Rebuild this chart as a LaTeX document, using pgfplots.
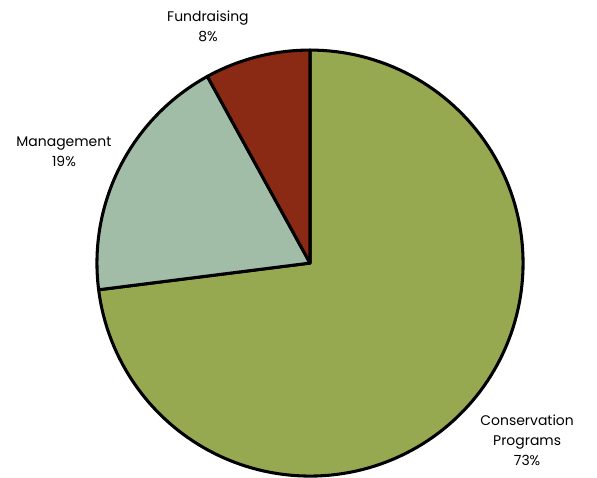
\documentclass[border=0pt]{standalone}
\usepackage{pgfplots}
\usepackage{pgfplotstable}
\pgfplotsset{compat=1.18}
\usepackage{fontspec}
\setmainfont{Poppins}
\definecolor{cgreen}{RGB}{151,169,80}
\definecolor{csage}{RGB}{161,188,167}
\definecolor{cred}{RGB}{139,42,20}
\pgfplotstableread{
share
73
19
8
}\piedata
\pgfplotstablegetelem{0}{share}\of\piedata \let\va\pgfplotsretval
\pgfplotstablegetelem{1}{share}\of\piedata \let\vb\pgfplotsretval
\pgfplotstablegetelem{2}{share}\of\piedata \let\vc\pgfplotsretval
\pgfmathsetmacro{\aA}{90}
\pgfmathsetmacro{\aB}{90-3.6*\va}
\pgfmathsetmacro{\aC}{\aB-3.6*\vb}
\pgfmathsetmacro{\aD}{\aC-3.6*\vc}
\begin{document}
\begin{tikzpicture}
\begin{axis}[
  scale only axis, width=15.8cm, height=12.6cm,
  xmin=-1.455, xmax=1.347, ymin=-1.0, ymax=1.235,
  hide axis, clip=false,
]
\path (rel axis cs:0,0) rectangle (rel axis cs:1,1);
\addplot[fill=cgreen, draw=black, line width=2.3pt, line join=round, domain=\aA:\aB, samples=150, variable=\t] ({cos(\t)},{sin(\t)}) -- (axis cs:0,0) -- cycle;
\addplot[fill=csage, draw=black, line width=2.3pt, line join=round, domain=\aB:\aC, samples=60, variable=\t] ({cos(\t)},{sin(\t)}) -- (axis cs:0,0) -- cycle;
\addplot[fill=cred, draw=black, line width=2.3pt, line join=round, domain=\aC:\aD, samples=40, variable=\t] ({cos(\t)},{sin(\t)}) -- (axis cs:0,0) -- cycle;
\node[align=center, font=\fontsize{10.5}{15}\selectfont] at (axis cs:-0.479,1.113) {Fundraising\\\vc\%};
\node[align=center, font=\fontsize{10.5}{15}\selectfont] at (axis cs:-1.155,0.521) {Management\\\vb\%};
\node[align=center, font=\fontsize{10.5}{15}\selectfont] at (axis cs:1.019,-0.831) {Conservation\\Programs\\\va\%};
\end{axis}
\end{tikzpicture}
\end{document}
